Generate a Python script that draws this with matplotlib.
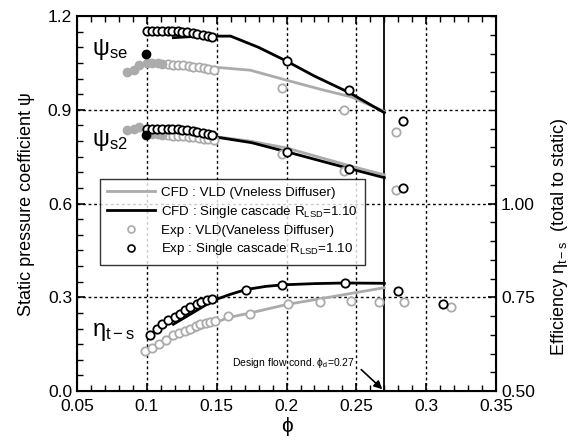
import matplotlib
matplotlib.use("Agg")
import matplotlib.pyplot as plt
from matplotlib.ticker import MultipleLocator, FixedLocator
from matplotlib.lines import Line2D

plt.rcParams['font.family'] = ['Liberation Sans', 'DejaVu Sans']
plt.rcParams['mathtext.fontset'] = 'custom'
plt.rcParams['mathtext.rm'] = 'Liberation Sans'
plt.rcParams['mathtext.it'] = 'Liberation Sans:italic'

GRAY = '#ababab'

# --- psi_se ---
se_cfd_sc_x = [0.119, 0.130, 0.148, 0.160, 0.180, 0.200, 0.220, 0.245, 0.270]
se_cfd_sc_y = [1.131, 1.134, 1.136, 1.136, 1.100, 1.056, 1.008, 0.955, 0.891]
se_cfd_vld_x = [0.100, 0.120, 0.150, 0.174, 0.200, 0.225, 0.246, 0.270]
se_cfd_vld_y = [1.053, 1.048, 1.036, 1.027, 0.995, 0.965, 0.942, 0.895]

# --- psi_s2 ---
s2_cfd_sc_x = [0.148, 0.175, 0.200, 0.245, 0.270]
s2_cfd_sc_y = [0.814, 0.795, 0.766, 0.712, 0.683]
s2_cfd_vld_x = [0.148, 0.174, 0.200, 0.246, 0.270]
s2_cfd_vld_y = [0.815, 0.800, 0.778, 0.720, 0.692]

# experiment, single cascade (psi_se / psi_s2 share phi)
exp_sc_x = [0.100, 0.104, 0.107, 0.111, 0.115, 0.118, 0.122, 0.125, 0.129,
            0.133, 0.136, 0.140, 0.144, 0.147, 0.200, 0.245, 0.283]
exp_sc_se = [1.153, 1.153, 1.153, 1.153, 1.152, 1.152, 1.151, 1.150, 1.148,
             1.146, 1.143, 1.140, 1.136, 1.132, 1.056, 0.963, 0.865]
exp_sc_s2 = [0.840, 0.840, 0.840, 0.840, 0.839, 0.839, 0.838, 0.837, 0.835,
             0.833, 0.830, 0.827, 0.823, 0.819, 0.766, 0.712, 0.649]

# experiment, VLD
exp_vld_x = [0.115, 0.119, 0.122, 0.126, 0.130, 0.133, 0.137, 0.141, 0.144,
             0.148, 0.197, 0.241, 0.2785]
exp_vld_se = [1.046, 1.045, 1.044, 1.042, 1.040, 1.038, 1.036, 1.033, 1.030,
              1.026, 0.971, 0.899, 0.828]
exp_vld_s2 = [0.818, 0.817, 0.816, 0.815, 0.814, 0.812, 0.810, 0.808, 0.806,
              0.805, 0.760, 0.705, 0.642]

# low-flow (filled) points
fill_vld_x = [0.0856, 0.0908, 0.0947, 0.100, 0.104, 0.108, 0.111]
fill_vld_se = [1.022, 1.027, 1.045, 1.050, 1.050, 1.049, 1.048]
fill_vld_s2 = [0.835, 0.840, 0.846, 0.826, 0.824, 0.822, 0.820]
fill_sc_x = [0.0992]
fill_sc_se = [1.080]
fill_sc_s2 = [0.819]

# --- efficiency (plotted on left scale) ---
eta_cfd_sc_x = [0.119, 0.130, 0.148, 0.160, 0.171, 0.185, 0.197, 0.220, 0.242, 0.270]
eta_cfd_sc_y = [0.214, 0.243, 0.291, 0.310, 0.325, 0.335, 0.340, 0.344, 0.346, 0.345]
eta_cfd_vld_x = [0.130, 0.158, 0.174, 0.201, 0.230, 0.270]
eta_cfd_vld_y = [0.184, 0.235, 0.250, 0.278, 0.300, 0.331]

eta_exp_sc_x = [0.102, 0.107, 0.111, 0.115, 0.120, 0.124, 0.127, 0.131, 0.136,
                0.139, 0.143, 0.147, 0.171, 0.197, 0.242, 0.280, 0.312]
eta_exp_sc_y = [0.181, 0.200, 0.216, 0.229, 0.238, 0.246, 0.259, 0.268, 0.278,
                0.286, 0.291, 0.294, 0.325, 0.340, 0.345, 0.321, 0.280]
eta_exp_vld_x = [0.099, 0.104, 0.109, 0.114, 0.119, 0.123, 0.127, 0.131, 0.135,
                 0.138, 0.142, 0.145, 0.149, 0.158, 0.174, 0.201, 0.224, 0.246,
                 0.266, 0.284, 0.318]
eta_exp_vld_y = [0.129, 0.139, 0.152, 0.165, 0.179, 0.187, 0.193, 0.200, 0.208,
                 0.214, 0.219, 0.222, 0.225, 0.240, 0.248, 0.279, 0.286, 0.289,
                 0.286, 0.286, 0.270]

x_ticks = [0.05, 0.1, 0.15, 0.2, 0.25, 0.3, 0.35]
x_labels = ['0.05', '0.1', '0.15', '0.2', '0.25', '0.3', '0.35']
y_ticks = [0.0, 0.3, 0.6, 0.9, 1.2]
y_labels = ['0.0', '0.3', '0.6', '0.9', '1.2']
eta_ticks = [0.5, 0.75, 1.0]
eta_labels = ['0.50', '0.75', '1.00']

design_phi = 0.27

fig = plt.figure(figsize=(5.83, 4.48), dpi=100)
ax = fig.add_axes([0.132, 0.127, 0.719, 0.837])

# grid
for gx in x_ticks[1:-1]:
    ax.axvline(gx, color='black', lw=1.0, ls=(0, (2, 2)), zorder=1)
for gy in y_ticks[1:-1]:
    ax.axhline(gy, color='black', lw=1.0, ls=(0, (2, 2)), zorder=1)
ax.axvline(design_phi, color='black', lw=1.3, zorder=2)

# CFD lines
for xs, ys in [(se_cfd_vld_x, se_cfd_vld_y), (s2_cfd_vld_x, s2_cfd_vld_y),
               (eta_cfd_vld_x, eta_cfd_vld_y)]:
    ax.plot(xs, ys, color=GRAY, lw=2.0, zorder=3)
for xs, ys in [(se_cfd_sc_x, se_cfd_sc_y), (s2_cfd_sc_x, s2_cfd_sc_y),
               (eta_cfd_sc_x, eta_cfd_sc_y)]:
    ax.plot(xs, ys, color='black', lw=2.0, zorder=4)

# experimental points
ms = 6
mk = dict(ls='none', marker='o', ms=ms, mew=1.3, mfc='white')
for xs, ys in [(exp_vld_x, exp_vld_se), (exp_vld_x, exp_vld_s2),
               (eta_exp_vld_x, eta_exp_vld_y)]:
    ax.plot(xs, ys, mec=GRAY, zorder=5, **mk)
for xs, ys in [(exp_sc_x, exp_sc_se), (exp_sc_x, exp_sc_s2),
               (eta_exp_sc_x, eta_exp_sc_y)]:
    ax.plot(xs, ys, mec='black', zorder=6, **mk)
for ys in [fill_vld_se, fill_vld_s2]:
    ax.plot(fill_vld_x, ys, ls='none', marker='o', ms=ms, color=GRAY, zorder=5)
for ys in [fill_sc_se, fill_sc_s2]:
    ax.plot(fill_sc_x, ys, ls='none', marker='o', ms=ms, color='black', zorder=7)

ax.set_xlim(0.05, 0.35)
ax.set_ylim(0.0, 1.2)

# ticks
ax.set_xticks(x_ticks)
ax.set_xticklabels(x_labels)
ax.set_yticks(y_ticks)
ax.set_yticklabels(y_labels)
ax.xaxis.set_minor_locator(MultipleLocator(0.01))
ax.yaxis.set_minor_locator(MultipleLocator(0.05))
ax.tick_params(which='both', direction='in', top=True, labelsize=12.5)
ax.tick_params(which='major', length=6, width=1.2)
ax.tick_params(which='minor', length=4, width=1.0)
ax.tick_params(axis='x', pad=6)
ax.tick_params(axis='y', which='both', right=False)
for s in ax.spines.values():
    s.set_linewidth(1.5)

ax.set_xlabel('ϕ', fontsize=15, labelpad=2)
ax.set_ylabel('Static pressure coefficient ψ', fontsize=13, labelpad=9)

# right axis: efficiency
ax2 = ax.twinx()
ax2.set_ylim(0.5, 1.5)
ax2.yaxis.set_major_locator(FixedLocator(eta_ticks))
ax2.yaxis.set_minor_locator(MultipleLocator(0.05))
ax2.set_yticklabels(eta_labels)
ax2.tick_params(which='both', direction='in', labelsize=12.5)
ax2.tick_params(which='major', length=6, width=1.2)
ax2.tick_params(which='minor', length=4, width=1.0)
ax2.set_ylabel('Efficiency η$_{\\rm t-s}$  (total to static)', fontsize=13, labelpad=10)
ax2.yaxis.label.set_y(0.41)

# curve labels
ax.text(0.0605, 1.075, 'ψ$_{\\rm se}$', fontsize=17)
ax.text(0.0605, 0.785, 'ψ$_{\\rm s2}$', fontsize=17)
ax.text(0.0605, 0.175, 'η$_{\\rm t-s}$', fontsize=17)

# design flow annotation
ax.text(0.249, 0.09, 'Design flow cond. ϕ$_{\\rm d}$=0.27', fontsize=7.5,
        ha='right', va='center')
ax.annotate('', xy=(design_phi, 0.0), xytext=(0.252, 0.075),
            arrowprops=dict(arrowstyle='-|>', color='black', lw=1.2,
                            mutation_scale=12))

# legend
handles = [
    Line2D([], [], color=GRAY, lw=2.0),
    Line2D([], [], color='black', lw=2.0),
    Line2D([], [], ls='none', marker='o', ms=5, mew=1.2, mfc='white', mec=GRAY),
    Line2D([], [], ls='none', marker='o', ms=5, mew=1.2, mfc='white', mec='black'),
]
labels = [
    'CFD : VLD (Vneless Diffuser)',
    'CFD : Single cascade R$_{\\rm LSD}$=1.10',
    'Exp : VLD(Vaneless Diffuser)',
    'Exp : Single cascade R$_{\\rm LSD}$=1.10',
]
leg = ax.legend(handles, labels, loc='upper left', bbox_to_anchor=(0.055, 0.565),
                fontsize=9.6, frameon=True, fancybox=False, handlelength=3.6,
                handletextpad=0.4, borderpad=0.55, labelspacing=0.35,
                borderaxespad=0)
leg.get_frame().set_edgecolor('black')
leg.get_frame().set_linewidth(1.0)
leg.set_zorder(10)

fig.savefig('out.png', dpi=100)
